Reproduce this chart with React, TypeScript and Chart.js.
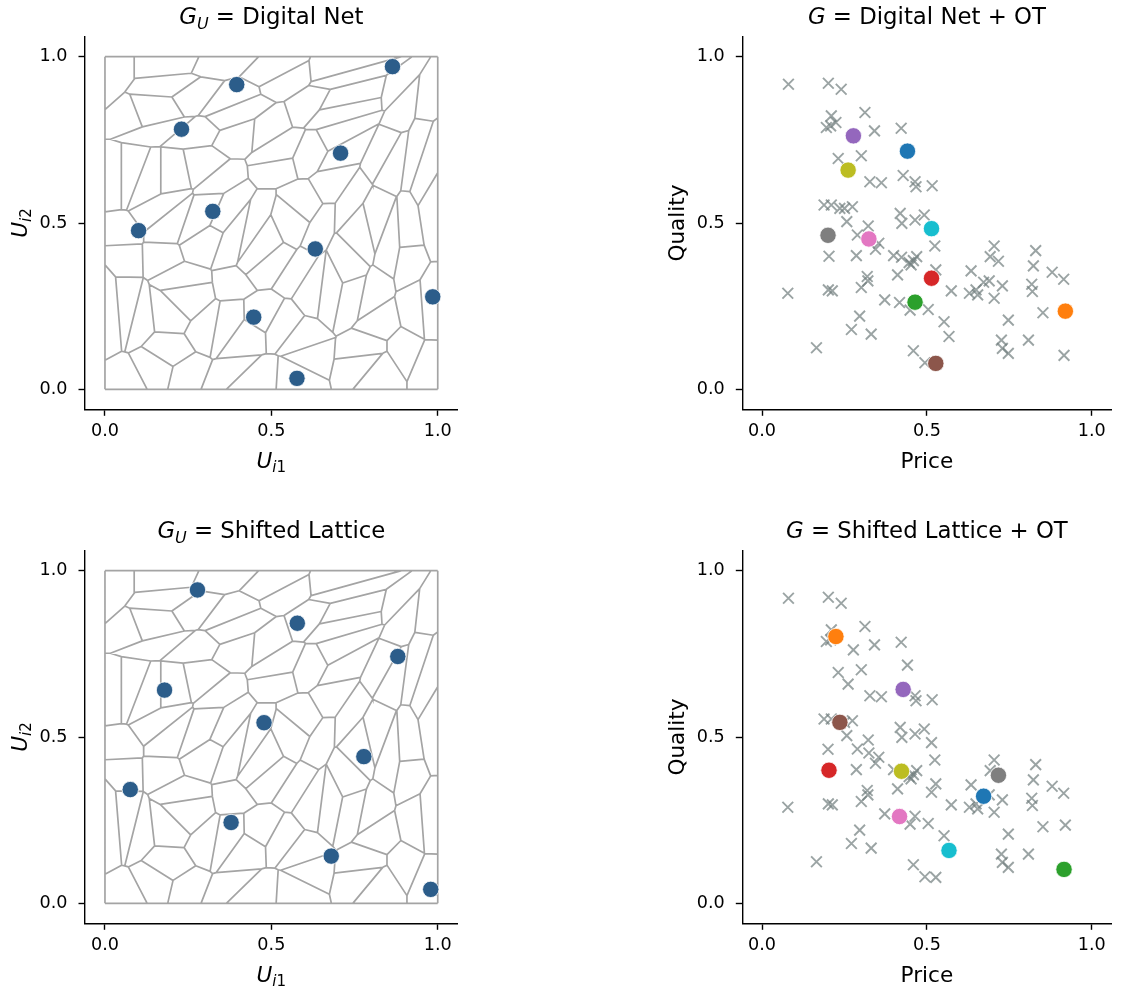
import React, { useEffect, useRef } from 'react';
import { Chart, registerables } from 'chart.js';
Chart.register(...registerables);

const FONT = '"DejaVu Sans", sans-serif';
const AXIS_MIN = -0.06;
const AXIS_MAX = 1.06;
const TICKS = [0, 0.5, 1.0];

// Empirical product data (Price, Quality)
const PRICE = [
  0.080, 0.201, 0.240, 0.312, 0.210, 0.224, 0.195, 0.208, 0.341, 0.422,
  0.231, 0.301, 0.327, 0.362, 0.428, 0.464, 0.467, 0.516, 0.188, 0.210,
  0.236, 0.250, 0.274, 0.257, 0.322, 0.419, 0.424, 0.464, 0.492, 0.289,
  0.354, 0.344, 0.203, 0.286, 0.399, 0.423, 0.446, 0.459, 0.469, 0.452,
  0.411, 0.319, 0.321, 0.301, 0.201, 0.213, 0.078, 0.372, 0.417, 0.449,
  0.504, 0.296, 0.271, 0.331, 0.165, 0.459, 0.494, 0.524, 0.704, 0.692,
  0.717, 0.830, 0.823, 0.880, 0.915, 0.634, 0.527, 0.574, 0.629, 0.649,
  0.654, 0.672, 0.689, 0.729, 0.704, 0.818, 0.820, 0.852, 0.747, 0.552,
  0.567, 0.726, 0.729, 0.747, 0.808, 0.916, 0.441, 0.920, 0.464, 0.514,
  0.277, 0.527, 0.324, 0.200, 0.261, 0.514,
];
const QUALITY = [
  0.917, 0.920, 0.902, 0.832, 0.822, 0.802, 0.787, 0.792, 0.777, 0.785,
  0.694, 0.702, 0.624, 0.621, 0.643, 0.624, 0.609, 0.612, 0.554, 0.554,
  0.544, 0.544, 0.549, 0.504, 0.491, 0.529, 0.499, 0.509, 0.524, 0.464,
  0.439, 0.421, 0.400, 0.402, 0.402, 0.397, 0.381, 0.387, 0.399, 0.374,
  0.344, 0.339, 0.326, 0.306, 0.299, 0.296, 0.289, 0.269, 0.261, 0.238,
  0.240, 0.220, 0.180, 0.166, 0.125, 0.116, 0.080, 0.431, 0.431, 0.399,
  0.385, 0.417, 0.371, 0.352, 0.331, 0.356, 0.359, 0.296, 0.289, 0.299,
  0.284, 0.322, 0.326, 0.311, 0.274, 0.316, 0.294, 0.230, 0.208, 0.203,
  0.159, 0.148, 0.123, 0.108, 0.148, 0.102, 0.716, 0.235, 0.262, 0.334,
  0.762, 0.078, 0.452, 0.463, 0.659, 0.483,
];

// Digital net points U and their OT images G(U)
const NET_U1 = [0.864, 0.396, 0.230, 0.708, 0.324, 0.101, 0.632, 0.985, 0.447, 0.577];
const NET_U2 = [0.970, 0.916, 0.782, 0.710, 0.535, 0.477, 0.422, 0.278, 0.217, 0.033];
const NET_G_PRICE = [0.441, 0.920, 0.464, 0.514, 0.277, 0.527, 0.324, 0.200, 0.261, 0.514];
const NET_G_QUALITY = [0.716, 0.235, 0.262, 0.334, 0.762, 0.078, 0.452, 0.463, 0.659, 0.483];

// Shifted lattice points U and their OT images G(U)
const LAT_U1 = [0.278, 0.578, 0.880, 0.179, 0.478, 0.778, 0.076, 0.379, 0.680, 0.979];
const LAT_U2 = [0.942, 0.842, 0.742, 0.641, 0.543, 0.441, 0.342, 0.243, 0.142, 0.042];
const LAT_G_PRICE = [0.672, 0.224, 0.916, 0.203, 0.428, 0.236, 0.417, 0.717, 0.423, 0.567];
const LAT_G_QUALITY = [0.322, 0.802, 0.102, 0.400, 0.643, 0.544, 0.261, 0.385, 0.397, 0.159];

const TAB10 = ['#1f77b4', '#ff7f0e', '#2ca02c', '#d62728', '#9467bd', '#8c564b', '#e377c2', '#7f7f7f', '#bcbd22', '#17becf'];
const U_COLOR = '#2c5d8a';
const EDGE_COLOR = '#a4a4a4';
const CROSS_COLOR = 'rgba(112,126,126,0.7)';

type Seg = { t: string; it?: boolean; sub?: boolean };
const TITLE_NET: Seg[] = [{ t: 'G', it: true }, { t: 'U', it: true, sub: true }, { t: ' = ' }, { t: 'Digital Net' }];
const TITLE_NET_OT: Seg[] = [{ t: 'G', it: true }, { t: ' = ' }, { t: 'Digital Net + OT' }];
const TITLE_LAT: Seg[] = [{ t: 'G', it: true }, { t: 'U', it: true, sub: true }, { t: ' = ' }, { t: 'Shifted Lattice' }];
const TITLE_LAT_OT: Seg[] = [{ t: 'G', it: true }, { t: ' = ' }, { t: 'Shifted Lattice + OT' }];
const XLABEL_U: Seg[] = [{ t: 'U', it: true }, { t: 'i', it: true, sub: true }, { t: '1', sub: true }];
const YLABEL_U: Seg[] = [{ t: 'U', it: true }, { t: 'i', it: true, sub: true }, { t: '2', sub: true }];
const XLABEL_P: Seg[] = [{ t: 'Price' }];
const YLABEL_Q: Seg[] = [{ t: 'Quality' }];

// ---------- semi-discrete optimal transport (power diagram) ----------
type Cell = { vx: number[]; vy: number[]; lab: number[] };

function cellOf(i: number, px: number[], py: number[], w: number[]): Cell {
  let vx = [0, 1, 1, 0];
  let vy = [0, 0, 1, 1];
  let lab = [-1, -2, -3, -4];
  const n = px.length;
  const yi2 = px[i] * px[i] + py[i] * py[i];
  for (let j = 0; j < n; j++) {
    if (j === i) continue;
    const m = vx.length;
    if (m === 0) break;
    const ax = 2 * (px[j] - px[i]);
    const ay = 2 * (py[j] - py[i]);
    const b = px[j] * px[j] + py[j] * py[j] - yi2 - w[j] + w[i];
    const nx: number[] = [], ny: number[] = [], nl: number[] = [];
    for (let k = 0; k < m; k++) {
      const k2 = (k + 1) % m;
      const sx = vx[k], sy = vy[k], ex = vx[k2], ey = vy[k2];
      const sd = ax * sx + ay * sy - b;
      const ed = ax * ex + ay * ey - b;
      const sIn = sd <= 0, eIn = ed <= 0;
      if (sIn) {
        nx.push(sx); ny.push(sy); nl.push(lab[k]);
        if (!eIn) {
          const t = sd / (sd - ed);
          nx.push(sx + t * (ex - sx)); ny.push(sy + t * (ey - sy)); nl.push(j);
        }
      } else if (eIn) {
        const t = sd / (sd - ed);
        nx.push(sx + t * (ex - sx)); ny.push(sy + t * (ey - sy)); nl.push(lab[k]);
      }
    }
    vx = nx; vy = ny; lab = nl;
  }
  return { vx, vy, lab };
}

function polyArea(vx: number[], vy: number[]) {
  let s = 0;
  const m = vx.length;
  for (let k = 0; k < m; k++) {
    const k2 = (k + 1) % m;
    s += vx[k] * vy[k2] - vx[k2] * vy[k];
  }
  return Math.abs(s) / 2;
}

function solveLinear(A: number[][], b: number[]): number[] {
  const n = b.length;
  const M = A.map((row, i) => [...row, b[i]]);
  for (let c = 0; c < n; c++) {
    let p = c;
    for (let r = c + 1; r < n; r++) if (Math.abs(M[r][c]) > Math.abs(M[p][c])) p = r;
    const tmp = M[c]; M[c] = M[p]; M[p] = tmp;
    const piv = M[c][c];
    if (Math.abs(piv) < 1e-14) continue;
    for (let r = 0; r < n; r++) {
      if (r === c) continue;
      const f = M[r][c] / piv;
      if (f === 0) continue;
      for (let k = c; k <= n; k++) M[r][k] -= f * M[c][k];
    }
  }
  return M.map((row, i) => (Math.abs(row[i]) < 1e-14 ? 0 : row[n] / row[i]));
}

function otCellEdges(px: number[], py: number[]) {
  const n = px.length;
  const target = 1 / n;
  const evalAll = (w: number[]) => {
    const cells: Cell[] = [];
    const areas: number[] = [];
    for (let i = 0; i < n; i++) {
      const c = cellOf(i, px, py, w);
      cells.push(c);
      areas.push(polyArea(c.vx, c.vy));
    }
    return { cells, areas };
  };
  const l2 = (areas: number[]) => Math.sqrt(areas.reduce((s, a) => s + (a - target) * (a - target), 0));
  let w = new Array(n).fill(0);
  let cur = evalAll(w);
  for (let it = 0; it < 60; it++) {
    const err = l2(cur.areas);
    if (err < 1e-10) break;
    const H = Array.from({ length: n }, () => new Array(n).fill(0));
    cur.cells.forEach((c, i) => {
      const m = c.vx.length;
      for (let k = 0; k < m; k++) {
        const j = c.lab[k];
        if (j < 0) continue;
        const k2 = (k + 1) % m;
        const len = Math.hypot(c.vx[k2] - c.vx[k], c.vy[k2] - c.vy[k]);
        const d = Math.hypot(px[j] - px[i], py[j] - py[i]);
        const v = len / (2 * d);
        H[i][i] += v;
        H[i][j] -= v;
      }
    });
    const g = cur.areas.map((a) => target - a);
    const dwr = solveLinear(H.slice(1).map((r) => r.slice(1)), g.slice(1));
    const dw = [0, ...dwr];
    const thr = 0.5 * Math.min(Math.min(...cur.areas), target);
    let t = 1;
    let ok = false;
    while (t > 1e-6) {
      const wt = w.map((v, i) => v + t * dw[i]);
      const nx = evalAll(wt);
      if (Math.min(...nx.areas) > thr && l2(nx.areas) <= (1 - t / 2) * err) {
        w = wt; cur = nx; ok = true; break;
      }
      t /= 2;
    }
    if (!ok) break;
  }
  const pts: { x: number | null; y: number | null }[] = [];
  cur.cells.forEach((c, i) => {
    const m = c.vx.length;
    for (let k = 0; k < m; k++) {
      const j = c.lab[k];
      if (j >= 0 && j < i) continue;
      const k2 = (k + 1) % m;
      if (Math.hypot(c.vx[k2] - c.vx[k], c.vy[k2] - c.vy[k]) < 1e-9) continue;
      pts.push({ x: c.vx[k], y: c.vy[k] }, { x: c.vx[k2], y: c.vy[k2] }, { x: null, y: null });
    }
  });
  return pts;
}

// ---------- drawing helpers ----------
function drawRich(ctx: CanvasRenderingContext2D, segs: Seg[], cx: number, cy: number, size: number, rotate: boolean) {
  ctx.save();
  ctx.translate(cx, cy);
  if (rotate) ctx.rotate(-Math.PI / 2);
  ctx.fillStyle = '#000';
  ctx.textBaseline = 'alphabetic';
  ctx.textAlign = 'left';
  const fontOf = (s: Seg) => `${s.it ? 'italic ' : ''}${s.sub ? size * 0.7 : size}px ${FONT}`;
  let total = 0;
  const widths = segs.map((s) => {
    ctx.font = fontOf(s);
    const wd = ctx.measureText(s.t).width;
    total += wd;
    return wd;
  });
  let x = -total / 2;
  segs.forEach((s, k) => {
    ctx.font = fontOf(s);
    ctx.fillText(s.t, x, s.sub ? size * 0.22 : 0);
    x += widths[k];
  });
  ctx.restore();
}

type Area = { L: number; T: number; R: number; B: number };

function makeConfig(W: number, H: number, area: Area, datasets: any[], title: Seg[], xl: Seg[], yl: Seg[]): any {
  const scale = (isX: boolean) => ({
    type: 'linear',
    min: AXIS_MIN,
    max: AXIS_MAX,
    afterBuildTicks: (s: any) => { s.ticks = TICKS.map((v) => ({ value: v })); },
    afterFit: (s: any) => { if (isX) s.height = H - area.B; else s.width = area.L; },
    ticks: {
      callback: (v: any) => Number(v).toFixed(1),
      font: { family: FONT, size: 17.6 },
      color: '#000',
      padding: isX ? 5 : 11,
      autoSkip: false,
      maxRotation: 0,
    },
    grid: { display: true, drawOnChartArea: false, drawTicks: true, tickLength: 6.5, tickWidth: 1.4, tickColor: '#000' },
    border: { display: true, color: '#000', width: 1.4 },
  });
  const textPlugin = {
    id: 'richText',
    afterDraw(chart: any) {
      const { ctx, chartArea: a } = chart;
      const cx = (a.left + a.right) / 2;
      const cy = (a.top + a.bottom) / 2;
      drawRich(ctx, title, cx, a.top - 12.7, 22.8, false);
      drawRich(ctx, xl, cx, a.bottom + 58.4, 21.6, false);
      drawRich(ctx, yl, a.left - 58.5, cy, 21.6, true);
    },
  };
  return {
    type: 'scatter',
    data: { datasets },
    options: {
      animation: false,
      responsive: false,
      devicePixelRatio: 1,
      layout: { padding: { left: 0, top: area.T, right: W - area.R, bottom: 0 } },
      plugins: { legend: { display: false }, tooltip: { enabled: false }, title: { display: false } },
      scales: { x: scale(true), y: scale(false) },
    },
    plugins: [textPlugin],
  };
}

function uPanel(edges: any[], u1: number[], u2: number[]) {
  return [
    {
      type: 'line',
      data: edges,
      borderColor: EDGE_COLOR,
      borderWidth: 1.7,
      pointRadius: 0,
      showLine: true,
      spanGaps: false,
      fill: false,
      order: 2,
    },
    {
      type: 'scatter',
      data: u1.map((x, i) => ({ x, y: u2[i] })),
      backgroundColor: U_COLOR,
      borderColor: '#ffffff',
      borderWidth: 0.8,
      pointRadius: 8.2,
      order: 1,
    },
  ];
}

function gPanel(gx: number[], gy: number[]) {
  return [
    {
      type: 'scatter',
      data: PRICE.map((x, i) => ({ x, y: QUALITY[i] })),
      pointStyle: 'crossRot',
      pointRadius: 7.6,
      borderColor: CROSS_COLOR,
      backgroundColor: 'rgba(0,0,0,0)',
      borderWidth: 1.9,
      order: 2,
    },
    {
      type: 'scatter',
      data: gx.map((x, i) => ({ x, y: gy[i] })),
      backgroundColor: TAB10,
      borderColor: '#ffffff',
      borderWidth: 0.8,
      pointRadius: 8.2,
      order: 1,
    },
  ];
}

const W_L = 560, W_R = 561, H_P = 496;
const AREA_L_TOP: Area = { L: 85, T: 36.7, R: 457.7, B: 409.3 };
const AREA_R_TOP: Area = { L: 182.3, T: 36.7, R: 555, B: 409.3 };
const AREA_L_BOT: Area = { L: 85, T: 54.7, R: 457.7, B: 427.3 };
const AREA_R_BOT: Area = { L: 182.3, T: 54.7, R: 555, B: 427.3 };

export default function App() {
  const r0 = useRef<HTMLCanvasElement>(null);
  const r1 = useRef<HTMLCanvasElement>(null);
  const r2 = useRef<HTMLCanvasElement>(null);
  const r3 = useRef<HTMLCanvasElement>(null);

  useEffect(() => {
    Chart.defaults.font.family = FONT;
    const edges = otCellEdges(PRICE, QUALITY);
    const charts = [
      new Chart(r0.current as HTMLCanvasElement, makeConfig(W_L, H_P, AREA_L_TOP, uPanel(edges, NET_U1, NET_U2), TITLE_NET, XLABEL_U, YLABEL_U)),
      new Chart(r1.current as HTMLCanvasElement, makeConfig(W_R, H_P, AREA_R_TOP, gPanel(NET_G_PRICE, NET_G_QUALITY), TITLE_NET_OT, XLABEL_P, YLABEL_Q)),
      new Chart(r2.current as HTMLCanvasElement, makeConfig(W_L, H_P, AREA_L_BOT, uPanel(edges, LAT_U1, LAT_U2), TITLE_LAT, XLABEL_U, YLABEL_U)),
      new Chart(r3.current as HTMLCanvasElement, makeConfig(W_R, H_P, AREA_R_BOT, gPanel(LAT_G_PRICE, LAT_G_QUALITY), TITLE_LAT_OT, XLABEL_P, YLABEL_Q)),
    ];
    return () => charts.forEach((c) => c.destroy());
  }, []);

  return (
    <div style={{ position: 'absolute', left: 0, top: 0, width: 1121, height: 992, background: '#ffffff', overflow: 'hidden' }}>
      <canvas ref={r0} width={W_L} height={H_P} style={{ position: 'absolute', left: 0, top: 0 }} />
      <canvas ref={r1} width={W_R} height={H_P} style={{ position: 'absolute', left: W_L, top: 0 }} />
      <canvas ref={r2} width={W_L} height={H_P} style={{ position: 'absolute', left: 0, top: H_P }} />
      <canvas ref={r3} width={W_R} height={H_P} style={{ position: 'absolute', left: W_L, top: H_P }} />
    </div>
  );
}
